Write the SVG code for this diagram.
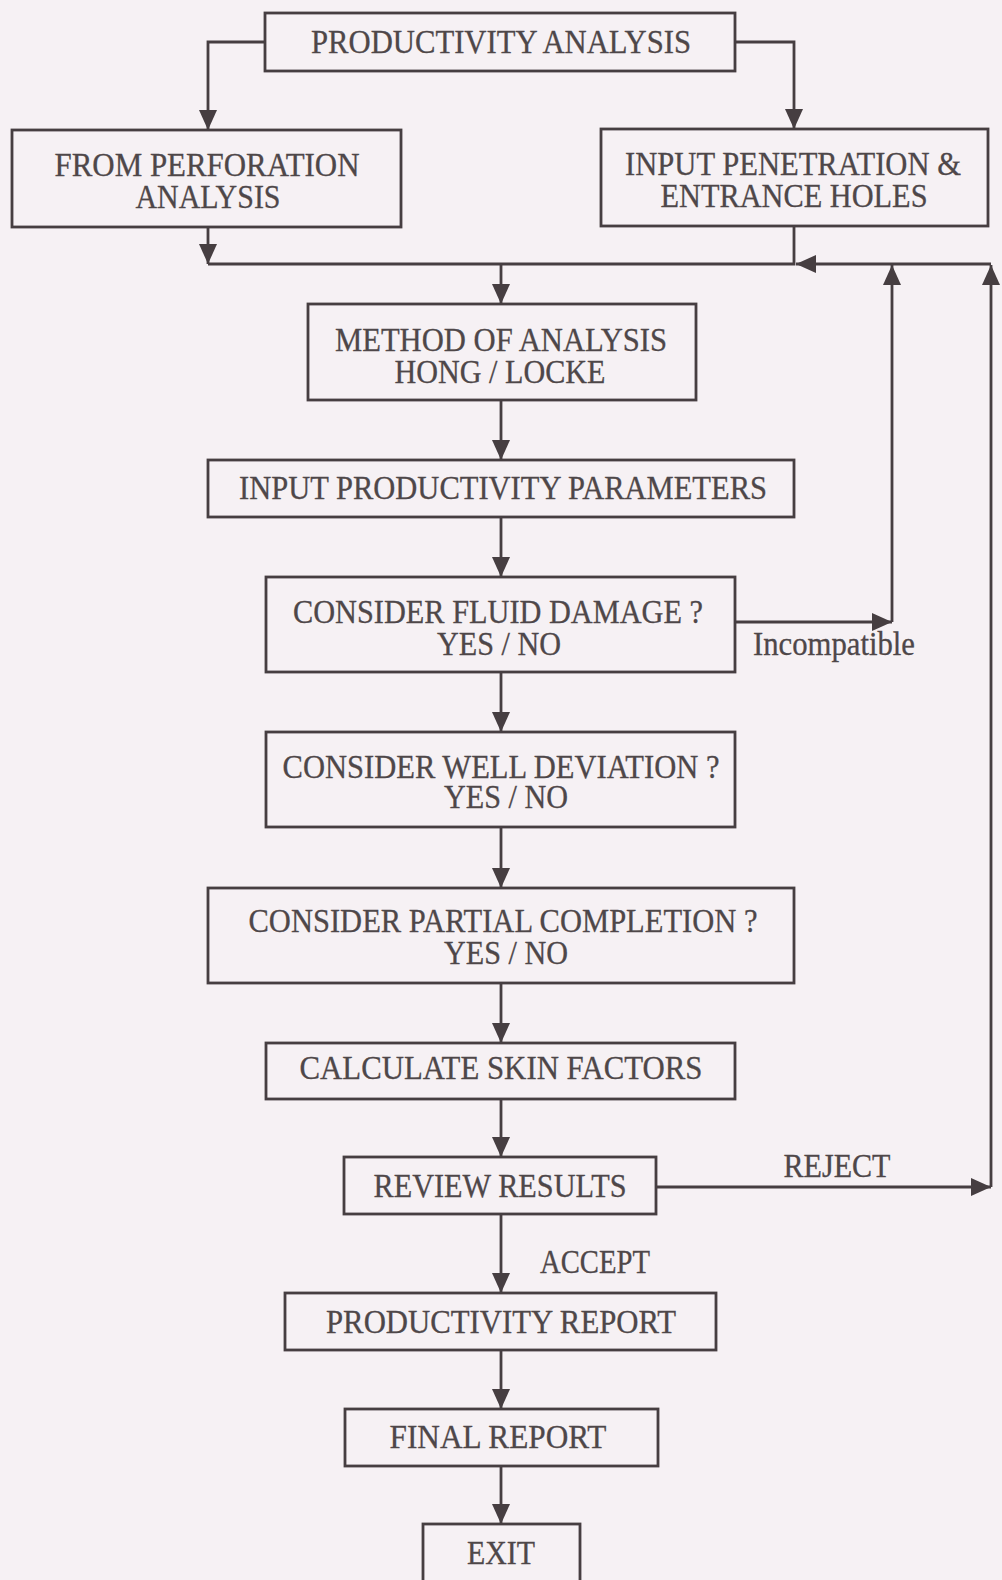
<svg xmlns="http://www.w3.org/2000/svg" width="1002" height="1580" viewBox="0 0 1002 1580">
<defs>
<style>
.box{fill:none;stroke:#463e41;stroke-width:2.8}
.ln{fill:none;stroke:#463e41;stroke-width:2.8}
.t{font-family:"Liberation Serif","Times New Roman",serif;font-size:33px;fill:#4e4749;stroke:#4e4749;stroke-width:0.3;text-anchor:middle}
</style>
<marker id="ah" viewBox="0 0 20 18" refX="20" refY="9" markerWidth="20" markerHeight="18" markerUnits="userSpaceOnUse" orient="auto">
<path d="M0,0 L20,9 L0,18 Z" fill="#463e41"/>
</marker>
</defs>
<rect x="0" y="0" width="1002" height="1580" fill="#f6f1f4"/>

<g id="connectors">
<path class="ln" d="M265,42 H208 V130" marker-end="url(#ah)"/>
<path class="ln" d="M735,42 H794 V129" marker-end="url(#ah)"/>
<path class="ln" d="M208,227 V264" marker-end="url(#ah)"/>
<path class="ln" d="M208,264 H794 V226"/>
<path class="ln" d="M991,264 H796" marker-end="url(#ah)"/>
<path class="ln" d="M501,264 V304" marker-end="url(#ah)"/>
<path class="ln" d="M501,400 V460" marker-end="url(#ah)"/>
<path class="ln" d="M501,517 V577" marker-end="url(#ah)"/>
<path class="ln" d="M735,622 H892" marker-end="url(#ah)"/>
<path class="ln" d="M892,622 V265" marker-end="url(#ah)"/>
<path class="ln" d="M501,672 V732" marker-end="url(#ah)"/>
<path class="ln" d="M501,827 V888" marker-end="url(#ah)"/>
<path class="ln" d="M501,983 V1043" marker-end="url(#ah)"/>
<path class="ln" d="M501,1099 V1157" marker-end="url(#ah)"/>
<path class="ln" d="M656,1187 H991" marker-end="url(#ah)"/>
<path class="ln" d="M991,1187 V265" marker-end="url(#ah)"/>
<path class="ln" d="M501,1214 V1293" marker-end="url(#ah)"/>
<path class="ln" d="M501,1350 V1409" marker-end="url(#ah)"/>
<path class="ln" d="M501,1466 V1524" marker-end="url(#ah)"/>
<text class="t" x="834" y="655" textLength="162" lengthAdjust="spacingAndGlyphs">Incompatible</text>
<text class="t" x="837" y="1177" textLength="107" lengthAdjust="spacingAndGlyphs">REJECT</text>
<text class="t" x="595" y="1273" textLength="110" lengthAdjust="spacingAndGlyphs">ACCEPT</text>
</g>

<g id="n-productivity-analysis">
<rect class="box" x="265" y="13" width="470" height="58"/>
<text class="t" x="501" y="53" textLength="380" lengthAdjust="spacingAndGlyphs">PRODUCTIVITY ANALYSIS</text>
</g>
<g id="n-from-perforation">
<rect class="box" x="12" y="130" width="389" height="97"/>
<text class="t" x="207" y="176" textLength="305" lengthAdjust="spacingAndGlyphs">FROM PERFORATION</text>
<text class="t" x="208" y="208" textLength="145" lengthAdjust="spacingAndGlyphs">ANALYSIS</text>
</g>
<g id="n-input-penetration">
<rect class="box" x="601" y="129" width="387" height="97"/>
<text class="t" x="793" y="175" textLength="336" lengthAdjust="spacingAndGlyphs">INPUT PENETRATION &amp;</text>
<text class="t" x="794" y="207" textLength="267" lengthAdjust="spacingAndGlyphs">ENTRANCE HOLES</text>
</g>
<g id="n-method">
<rect class="box" x="308" y="304" width="388" height="96"/>
<text class="t" x="501" y="351" textLength="332" lengthAdjust="spacingAndGlyphs">METHOD OF ANALYSIS</text>
<text class="t" x="500" y="383" textLength="211" lengthAdjust="spacingAndGlyphs">HONG / LOCKE</text>
</g>
<g id="n-input-productivity">
<rect class="box" x="208" y="460" width="586" height="57"/>
<text class="t" x="503" y="499" textLength="528" lengthAdjust="spacingAndGlyphs">INPUT PRODUCTIVITY PARAMETERS</text>
</g>
<g id="n-fluid-damage">
<rect class="box" x="266" y="577" width="469" height="95"/>
<text class="t" x="498" y="623" textLength="410" lengthAdjust="spacingAndGlyphs">CONSIDER FLUID DAMAGE ?</text>
<text class="t" x="499" y="655" textLength="124" lengthAdjust="spacingAndGlyphs">YES / NO</text>
</g>
<g id="n-well-deviation">
<rect class="box" x="266" y="732" width="469" height="95"/>
<text class="t" x="501" y="778" textLength="437" lengthAdjust="spacingAndGlyphs">CONSIDER WELL DEVIATION ?</text>
<text class="t" x="506" y="808" textLength="124" lengthAdjust="spacingAndGlyphs">YES / NO</text>
</g>
<g id="n-partial-completion">
<rect class="box" x="208" y="888" width="586" height="95"/>
<text class="t" x="503" y="932" textLength="509" lengthAdjust="spacingAndGlyphs">CONSIDER PARTIAL COMPLETION ?</text>
<text class="t" x="506" y="964" textLength="124" lengthAdjust="spacingAndGlyphs">YES / NO</text>
</g>
<g id="n-skin-factors">
<rect class="box" x="266" y="1043" width="469" height="56"/>
<text class="t" x="501" y="1079" textLength="403" lengthAdjust="spacingAndGlyphs">CALCULATE SKIN FACTORS</text>
</g>
<g id="n-review-results">
<rect class="box" x="344" y="1157" width="312" height="57"/>
<text class="t" x="500" y="1197" textLength="253" lengthAdjust="spacingAndGlyphs">REVIEW RESULTS</text>
</g>
<g id="n-productivity-report">
<rect class="box" x="285" y="1293" width="431" height="57"/>
<text class="t" x="501" y="1333" textLength="350" lengthAdjust="spacingAndGlyphs">PRODUCTIVITY REPORT</text>
</g>
<g id="n-final-report">
<rect class="box" x="345" y="1409" width="313" height="57"/>
<text class="t" x="498" y="1448" textLength="217" lengthAdjust="spacingAndGlyphs">FINAL REPORT</text>
</g>
<g id="n-exit">
<rect class="box" x="423" y="1524" width="157" height="80"/>
<text class="t" x="501" y="1564" textLength="68" lengthAdjust="spacingAndGlyphs">EXIT</text>
</g>
</svg>
